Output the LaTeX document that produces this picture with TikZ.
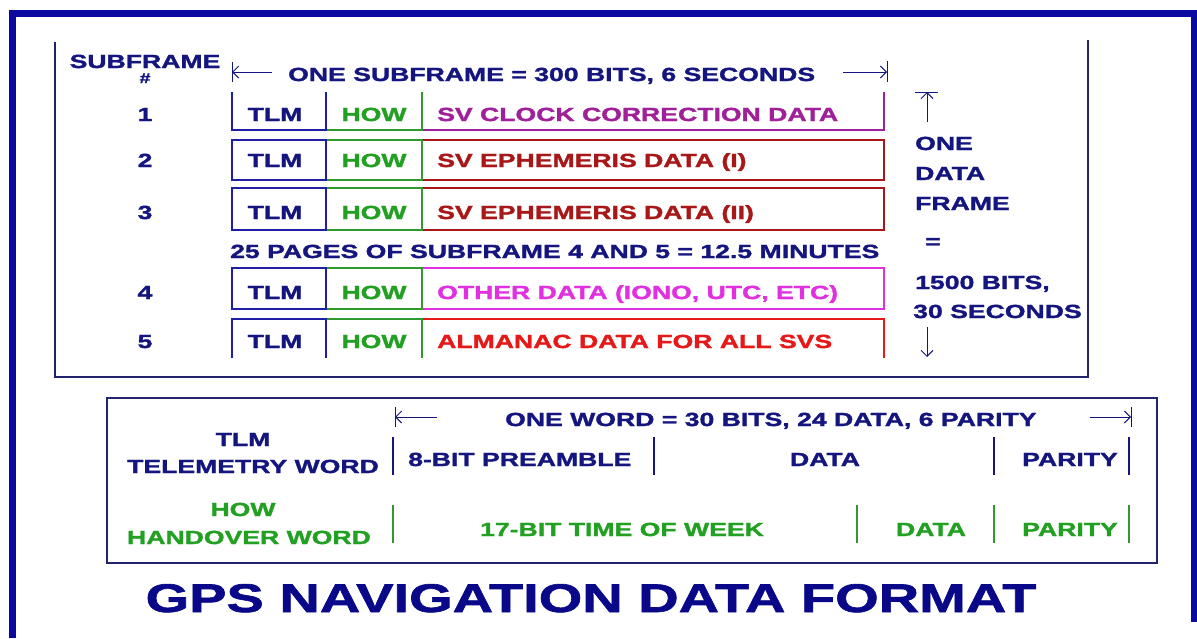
\documentclass[tikz,border=0pt]{standalone}
\usepackage{fontspec}
\newfontfamily\wf{Liberation Sans}[FakeStretch=1.4,BoldFeatures={FakeStretch=1.4,FakeBold=1.6}]
\usetikzlibrary{arrows.meta}
\definecolor{navy}{HTML}{15157F}
\definecolor{frameblue}{HTML}{0A0AA0}
\definecolor{boxline}{HTML}{22226E}
\definecolor{tlmblue}{HTML}{1E1EA6}
\definecolor{howgreen}{HTML}{2E9A2E}
\definecolor{howtext}{HTML}{22A022}
\definecolor{purp}{HTML}{A0209A}
\definecolor{dred}{HTML}{A81818}
\definecolor{magen}{HTML}{E030E0}
\definecolor{bred}{HTML}{E61818}
\tikzset{
  txt/.style={font=\wf\bfseries\fontsize{19}{19}\selectfont, inner sep=0pt, anchor=base, text=navy},
  cellline/.style={line width=1.6pt},
  dimarrow/.style={draw=navy, line width=1pt},
  tipstyle/.style={-{Straight Barb[length=6pt,width=12pt]}},
  divbar/.style={line width=1.6pt}
}
\begin{document}
\begin{tikzpicture}[x=1pt,y=-1pt]
\useasboundingbox (0,0) rectangle (1197,638);
\fill[white] (0,0) rectangle (1197,638);
% outer frame
\draw[frameblue, line width=7pt] (12.5,638) -- (12.5,13) -- (1194,13) -- (1194,622);
% upper box
\draw[boxline, line width=1.8pt] (55,42) -- (55,377) -- (1088,377) -- (1088,40);
% lower box
\draw[boxline, line width=1.8pt] (107,398) rectangle (1157,563);

% header
\node[txt] (sf) at (145,68) {SUBFRAME};
\node[txt, font=\wf\bfseries\fontsize{14}{14}\selectfont] (hash) at (145,83) {\#};
\node[txt, anchor=base west] (onesf) at (288,81) {ONE SUBFRAME = 300 BITS, 6 SECONDS};
\coordinate (aL) at (232,72);
\coordinate (aLe) at (272,72);
\coordinate (aRs) at (843,72);
\coordinate (aR) at (887,72);
\draw[dimarrow, tipstyle] (aLe) -- (aL);
\draw[dimarrow] (aL) ++(0,-10) -- ++(0,20);
\draw[dimarrow, tipstyle] (aRs) -- (aR);
\draw[dimarrow] (aR) ++(0,-11) -- ++(0,21);

% row 1 (open top)
\draw[purp, cellline] (422,92) -- (422,130) -- (884,130) -- (884,92);
\draw[howgreen, cellline] (326,130) -- (422,130) -- (422,92);
\draw[tlmblue, cellline] (232,92) -- (232,130) -- (326,130) -- (326,92);
% row 2
\draw[dred, cellline] (422,140) rectangle (884,180);
\draw[howgreen, cellline] (326,140) rectangle (422,180);
\draw[tlmblue, cellline] (232,140) rectangle (326,180);
% row 3
\draw[dred, cellline] (422,188) rectangle (884,230);
\draw[howgreen, cellline] (326,188) rectangle (422,230);
\draw[tlmblue, cellline] (232,188) rectangle (326,230);
% row 4
\draw[magen, cellline] (422,268) rectangle (884,309);
\draw[howgreen, cellline] (326,268) rectangle (422,309);
\draw[tlmblue, cellline] (232,268) rectangle (326,309);
% row 5 (open bottom)
\draw[bred, cellline] (422,358) -- (422,319) -- (884,319) -- (884,358);
\draw[howgreen, cellline] (326,358) -- (326,319) -- (422,319) -- (422,358);
\draw[tlmblue, cellline] (232,358) -- (232,319) -- (326,319) -- (326,358);

% row labels
\foreach \n/\yb in {1/121, 2/167, 3/219, 4/299, 5/348}{
  \node[txt] (num\n) at (145,\yb) {\n};
  \node[txt] (tlm\n) at (275,\yb) {TLM};
  \node[txt, text=howtext] (how\n) at (374,\yb) {HOW};
}
\node[txt, anchor=base west, text=purp] (d1) at (437,121) {SV CLOCK CORRECTION DATA};
\node[txt, anchor=base west, text=dred] (d2) at (437,167) {SV EPHEMERIS DATA (I)};
\node[txt, anchor=base west, text=dred] (d3) at (437,219) {SV EPHEMERIS DATA (II)};
\node[txt, anchor=base west, text=magen] (d4) at (437,299) {OTHER DATA (IONO, UTC, ETC)};
\node[txt, anchor=base west, text=bred] (d5) at (437,348) {ALMANAC DATA FOR ALL SVS};
\node[txt, anchor=base west] (pages) at (230,258) {25 PAGES OF SUBFRAME 4 AND 5 = 12.5 MINUTES};

% right column
\coordinate (uTop) at (927,92);
\coordinate (uBot) at (927,122);
\draw[dimarrow, tipstyle] (uBot) -- (uTop);
\draw[dimarrow] (uTop) ++(-12,0) -- ++(23,0);
\node[txt, anchor=base west] (one) at (915,150) {ONE};
\node[txt, anchor=base west] (data) at (915,180) {DATA};
\node[txt, anchor=base west] (frame) at (915,210) {FRAME};
\node[txt] (eq) at (933,248) {=};
\node[txt, anchor=base west] (bits) at (915,289) {1500 BITS,};
\node[txt, anchor=base west] (secs) at (913,318) {30 SECONDS};
\coordinate (dTop) at (927,327);
\coordinate (dBot) at (927,357);
\draw[dimarrow, tipstyle] (dTop) -- (dBot);

% lower box
\coordinate (wL) at (395,417);
\coordinate (wLe) at (437,417);
\coordinate (wRs) at (1090,417);
\coordinate (wR) at (1131,417);
\draw[dimarrow, tipstyle] (wLe) -- (wL);
\draw[dimarrow] (wL) ++(0,-10) -- ++(0,20);
\draw[dimarrow, tipstyle] (wRs) -- (wR);
\draw[dimarrow] (wR) ++(0,-10) -- ++(0,20);
\node[txt, anchor=base west] (oneword) at (505,426) {ONE WORD = 30 BITS, 24 DATA, 6 PARITY};

\node[txt] (ltlm) at (243,446) {TLM};
\node[txt] (ltel) at (253,473) {TELEMETRY WORD};
\node[txt, text=howtext] (lhow) at (243,516) {HOW};
\node[txt, text=howtext] (lhand) at (249,544) {HANDOVER WORD};

\foreach \x in {393,654,994,1129}{
  \draw[navy, divbar] (\x,437) -- (\x,475);
}
\foreach \x in {393,857,994,1129}{
  \draw[howgreen, divbar] (\x,505) -- (\x,543);
}
\node[txt, anchor=base west] (pre) at (408,466) {8-BIT PREAMBLE};
\node[txt] (tdata) at (825,466) {DATA};
\node[txt] (tpar) at (1070,466) {PARITY};
\node[txt, text=howtext] (tow) at (622,536) {17-BIT TIME OF WEEK};
\node[txt, text=howtext] (hdata) at (931,536) {DATA};
\node[txt, text=howtext] (hpar) at (1070,536) {PARITY};

% title
\node[txt, font=\wf\bfseries\fontsize{40}{40}\selectfont, text=frameblue!85!black] (title) at (591,612) {GPS NAVIGATION DATA FORMAT};
\end{tikzpicture}
\end{document}
